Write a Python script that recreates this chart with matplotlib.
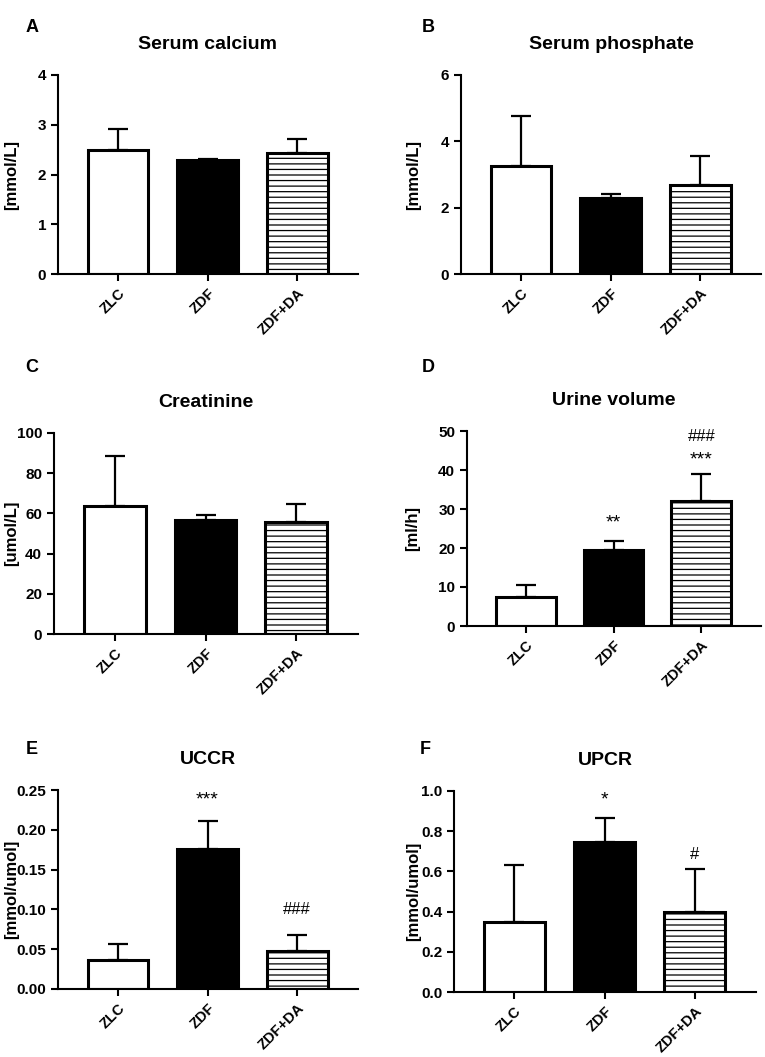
import matplotlib
matplotlib.use("Agg")
import matplotlib.pyplot as plt
import numpy as np

plt.rcParams['font.family'] = ['Liberation Sans', 'DejaVu Sans']
plt.rcParams['font.weight'] = 'bold'
plt.rcParams['hatch.linewidth'] = 0.9

groups = ['ZLC', 'ZDF', 'ZDF+DA']

calcium_mean = [2.50, 2.29, 2.43]
calcium_err = [0.41, 0.02, 0.29]

phosphate_mean = [3.25, 2.30, 2.68]
phosphate_err = [1.51, 0.11, 0.87]

creat_mean = [63.5, 56.9, 55.7]
creat_err = [25.1, 2.1, 8.8]

urine_mean = [7.4, 19.5, 32.0]
urine_err = [3.2, 2.2, 7.1]

uccr_mean = [0.037, 0.176, 0.048]
uccr_err = [0.020, 0.035, 0.020]

upcr_mean = [0.350, 0.747, 0.397]
upcr_err = [0.281, 0.117, 0.213]

# significance marks: (group index, y position, text, size)
urine_marks = [(1, 26.5, '**', 14), (2, 42.6, '***', 14), (2, 48.7, '###', 12)]
uccr_marks = [(1, 0.238, '***', 14), (2, 0.100, '###', 12)]
upcr_marks = [(1, 0.955, '*', 14), (2, 0.686, '#', 12)]

W, H = 765, 1057
fig = plt.figure(figsize=(W / 100, H / 100), dpi=100)

def px_axes(left, right, top, bottom):
    return fig.add_axes([left / W, 1 - bottom / H, (right - left) / W, (bottom - top) / H])

def panel(ax, means, errs, title, ylabel, ymax, step, fmt, label_x, marks=()):
    x = np.arange(len(groups))
    ax.bar(x, means, width=0.68, color=['white', 'black', 'white'],
           edgecolor='black', linewidth=2.2, hatch=['', '', '---'], zorder=2)
    ax.errorbar(x, means, yerr=[np.zeros(len(errs)), errs], fmt='none',
                ecolor='black', elinewidth=1.6, capsize=7.5, capthick=1.6, zorder=3)
    ax.set_xlim(-0.67, 2.68)
    ax.set_ylim(0, ymax)
    ticks = np.arange(0, ymax + step / 2, step)
    ax.set_yticks(ticks)
    ax.set_yticklabels([fmt.format(v) for v in ticks])
    ax.set_xticks(x)
    ax.set_xticklabels(groups, rotation=45, ha='right', va='top', rotation_mode='anchor')
    for s in ['top', 'right']:
        ax.spines[s].set_visible(False)
    for s in ['left', 'bottom']:
        ax.spines[s].set_linewidth(1.5)
    ax.tick_params(width=1.5, length=5)
    ax.tick_params(axis='y', labelsize=11)
    ax.tick_params(axis='x', labelsize=10.5)
    ax.set_ylabel(ylabel, fontsize=12, fontweight='bold')
    # label_x is the label centre in pixels; the label is anchored at its right edge
    bb = ax.get_position()
    ax.yaxis.set_label_coords(((label_x + 8) / W - bb.x0) / bb.width, 0.5)
    ax.set_title(title, fontsize=14, fontweight='bold', pad=19)
    for i, y, t, sz in marks:
        ax.text(i, y, t, ha='center', va='center', fontsize=sz, fontweight='normal')

axA = px_axes(58, 358, 75, 274)
panel(axA, calcium_mean, calcium_err, 'Serum calcium', '[mmol/L]', 4, 1, '{:.0f}', 11)
axB = px_axes(461, 761, 75, 274)
panel(axB, phosphate_mean, phosphate_err, 'Serum phosphate', '[mmol/L]', 6, 2, '{:.0f}', 413)
axC = px_axes(54, 358, 433, 634)
panel(axC, creat_mean, creat_err, 'Creatinine', '[umol/L]', 100, 20, '{:.0f}', 11)
axD = px_axes(467, 761, 431, 626)
panel(axD, urine_mean, urine_err, 'Urine volume', '[ml/h]', 50, 10, '{:.0f}', 412, urine_marks)
axE = px_axes(58, 358, 790, 989)
panel(axE, uccr_mean, uccr_err, 'UCCR', '[mmol/umol]', 0.25, 0.05, '{:.2f}', 11, uccr_marks)
axF = px_axes(454, 756, 791, 992)
panel(axF, upcr_mean, upcr_err, 'UPCR', '[mmol/umol]', 1.0, 0.2, '{:.1f}', 413, upcr_marks)

for lab, (px, py) in zip('ABCDEF', [(32, 27), (428, 27), (32, 368), (428, 368), (32, 750), (425, 749)]):
    fig.text(px / W, 1 - py / H, lab, ha='center', va='center', fontsize=13, fontweight='bold')

fig.savefig('out.png', dpi=100)
